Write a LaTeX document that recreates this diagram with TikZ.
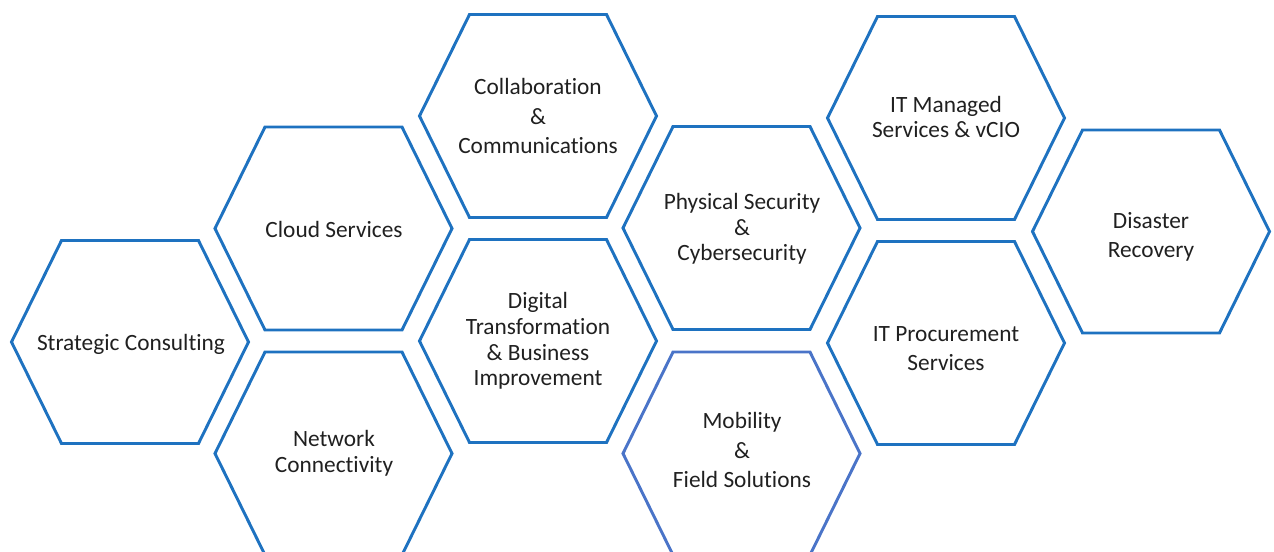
\documentclass[tikz,border=0pt]{standalone}
\usepackage{fontspec}
\setmainfont{Carlito}[Ligatures={NoCommon}]
\usetikzlibrary{calc}
\definecolor{hexblue}{RGB}{30,114,192}
\definecolor{hexlight}{RGB}{74,116,200}
\definecolor{txt}{RGB}{32,32,32}
\newcommand\hexpath[1]{($(#1)+(-118.5,0)$) -- ++(50,-101.5) -- ++(137,0) -- ++(50,101.5) -- ++(-50,101.5) -- ++(-137,0) -- cycle}
\begin{document}
\begin{tikzpicture}[x=0.75pt,y=-0.75pt,
  hexline/.style={line width=2.2pt, line join=miter, draw=hexblue},
  lbl/.style={align=center, font=\fontsize{17.5}{19.2}\selectfont, text=txt, inner sep=0pt},
  lblwide/.style={lbl, font=\fontsize{17.5}{21.8}\selectfont}]
\useasboundingbox (0,0) rectangle (1274,552);
\clip (0,0) rectangle (1274,552);
% hexagon centres
\coordinate (h1) at (130,342);
\coordinate (h2) at (333.5,228.5);
\coordinate (h3) at (333.5,453.5);
\coordinate (h4) at (538,116);
\coordinate (h5) at (538,341);
\coordinate (h6) at (741.5,228);
\coordinate (h7) at (741.5,453.5);
\coordinate (h8) at (946,118);
\coordinate (h9) at (946,343);
\coordinate (h10) at (1151,231.5);
% hexagons
\draw[hexline] \hexpath{h1};
\draw[hexline] \hexpath{h2};
\draw[hexline] \hexpath{h3};
\draw[hexline] \hexpath{h4};
\draw[hexline] \hexpath{h5};
\draw[hexline] \hexpath{h6};
\draw[hexline, draw=hexlight] \hexpath{h7};
\draw[hexline] \hexpath{h8};
\draw[hexline] \hexpath{h9};
\draw[hexline] \hexpath{h10};
% labels
\node[lbl] (t1) at (131,344) {Strategic Consulting};
\node[lbl] (t2) at (334,229) {Cloud Services};
\node[lbl] (t3) at (334,453) {Network\\Connectivity};
\node[lblwide] (t4) at (538,116) {Collaboration\\\&\\Communications};
\node[lbl] (t5) at (538,341) {Digital\\Transformation\\\& Business\\Improvement};
\node[lbl] (t6) at (742,229) {Physical Security\\\&\\Cybersecurity};
\node[lblwide] (t7) at (742,450) {Mobility\\\&\\Field Solutions};
\node[lbl] (t8) at (946,117) {IT Managed\\Services \& vCIO};
\node[lblwide] (t9) at (946,349) {IT Procurement\\Services};
\node[lblwide] (t10) at (1151,237) {Disaster\\Recovery};
\end{tikzpicture}
\end{document}
